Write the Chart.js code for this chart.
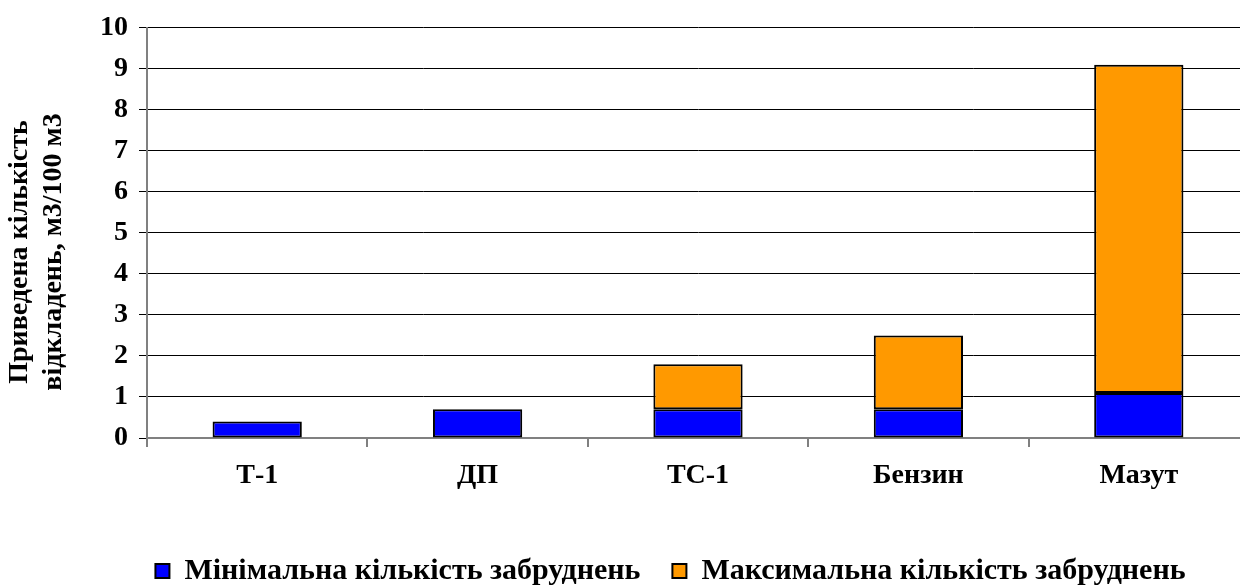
<!DOCTYPE html>
<html>
<head>
<meta charset="utf-8">
<script src="https://cdn.jsdelivr.net/npm/chart.js@4.4.0/dist/chart.umd.min.js"></script>
<style>
  html, body { margin: 0; padding: 0; background: #fff; overflow: hidden; }
</style>
</head>
<body>
<canvas id="depositsChart" width="1250" height="586"></canvas>
<script>
const fuels = ['Т-1', 'ДП', 'ТС-1', 'Бензин', 'Мазут'];
const minDeposits = [0.4, 0.7, 0.7, 0.7, 1.1];
const maxDeposits = [0, 0, 1.1, 1.8, 8.0];
const yTicks = [0, 1, 2, 3, 4, 5, 6, 7, 8, 9, 10];
const yTitle = ['Приведена кількість', 'відкладень, м3/100 м3'];

const serif = 'Liberation Serif';

// legend sits a bit right of centre in the original
const legendNudge = {
    id: 'legendNudge',
    afterLayout(chart) {
        chart.legend.left += 46;
        chart.legend.right += 46;
    }
};

// y title is centred lower than the axis middle, draw it ourselves
const yTitlePlugin = {
    id: 'yTitlePlugin',
    afterDraw(chart) {
        const c = chart.ctx;
        c.save();
        c.fillStyle = '#000';
        c.font = 'bold 28px "' + serif + '"';
        c.textAlign = 'center';
        c.textBaseline = 'middle';
        [20, 54].forEach((x, i) => {
            c.save();
            c.translate(x, 252);
            c.rotate(-Math.PI / 2);
            c.fillText(yTitle[i], 0, 0);
            c.restore();
        });
        c.restore();
    }
};

const ctx = document.getElementById('depositsChart').getContext('2d');
new Chart(ctx, {
    type: 'bar',
    data: {
        labels: fuels,
        datasets: [
            {
                label: 'Мінімальна кількість забруднень',
                data: minDeposits,
                backgroundColor: '#0000ff',
                borderColor: '#000000',
                borderWidth: 2,
                borderSkipped: false,
                barPercentage: 0.81,
                categoryPercentage: 0.5
            },
            {
                label: 'Максимальна кількість забруднень',
                data: maxDeposits,
                backgroundColor: '#ff9900',
                borderColor: '#000000',
                borderWidth: 2,
                borderSkipped: false,
                barPercentage: 0.81,
                categoryPercentage: 0.5
            }
        ]
    },
    plugins: [legendNudge, yTitlePlugin],
    options: {
        responsive: false,
        animation: false,
        layout: { padding: { top: 18, right: 1, left: 0, bottom: -10 } },
        plugins: {
            tooltip: { enabled: false },
            legend: {
                position: 'bottom',
                labels: {
                    color: '#000',
                    font: { family: serif, size: 30, weight: 'bold' },
                    boxWidth: 14,
                    boxHeight: 14,
                    padding: 32
                }
            }
        },
        scales: {
            x: {
                stacked: true,
                border: { color: '#808080', width: 2 },
                grid: { offset: true, drawOnChartArea: false, color: '#808080', tickLength: 9, lineWidth: 2 },
                ticks: {
                    color: '#000',
                    padding: 12,
                    font: { family: serif, size: 28, weight: 'bold' }
                },
                afterFit: scale => { scale.height = 86; }
            },
            y: {
                stacked: true,
                min: 0,
                max: 10,
                afterBuildTicks: scale => { scale.ticks = yTicks.map(v => ({ value: v })); },
                border: { color: '#808080', width: 2 },
                grid: { color: '#000', lineWidth: 1, tickLength: 8 },
                ticks: {
                    color: '#000',
                    padding: 11,
                    font: { family: serif, size: 28, weight: 'bold' }
                },
                afterFit: scale => { scale.width = 147; }
            }
        }
    }
});
</script>
</body>
</html>
